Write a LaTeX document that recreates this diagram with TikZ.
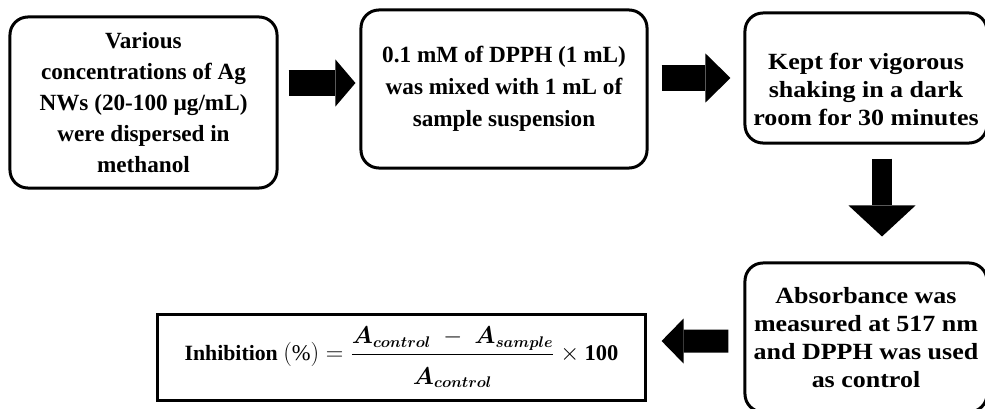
\documentclass[tikz,border=0pt]{standalone}
\usepackage{amsmath}
\usepackage{fontspec}
\setmainfont{Liberation Serif}
\newfontfamily\widefont[FakeStretch=1.12]{Liberation Serif}
\usetikzlibrary{arrows.meta,calc,positioning}
\tikzset{%
	step box/.style = {draw, rounded corners=0.45cm, line width=0.075cm, align=center, inner sep=0pt, font=\bfseries\fontsize{16.5}{22}\selectfont}, % Rounded step
	wide box/.style = {step box, minimum width=6.05cm, font=\widefont\bfseries\fontsize{16.5}{19.9}\selectfont}, % Right column
	result/.style   = {draw, rectangle, line width=0.075cm, inner sep=0pt, minimum width=12.175cm, minimum height=2.125cm, font=\fontsize{15.5}{18}\selectfont}, % Formula
	bigarrow/.style = {line width=0.625cm, -{Triangle[length=0.5cm, width=1.175cm, line width=0pt]}}, % Block arrow
}

\begin{document}
\begin{tikzpicture}[x=0.025cm, y=-0.025cm]
		\clip (0,0) rectangle (985,408);
		\node[step box, minimum width=6.675cm, minimum height=4.275cm] (mix) at (143.5,102.5) {Various\\ concentrations of Ag\\ NWs (20-100 µg/mL)\\ were dispersed in\\ methanol};
		\node[step box, minimum width=7.15cm, minimum height=3.95cm, font=\bfseries\fontsize{16.5}{22.7}\selectfont] (dpph) at (504,89) {0.1 mM of DPPH (1 mL)\\ was mixed with 1 mL of\\ sample suspension};
		\node[wide box, minimum height=3.25cm] (shake) at (866,78) {\rule{0pt}{28.5pt}Kept for vigorous\\ shaking in a dark\\ room for 30 minutes};
		\node[wide box, minimum height=3.725cm] (abs) at (866,337.5) {Absorbance was\\ measured at 517 nm\\ and DPPH was used\\ as control};
		\node[result] (inh) at (401.5,357.5) {\textbf{Inhibition} {\fontsize{16}{18}\selectfont$(\%) = \dfrac{\rule[-5pt]{0pt}{5pt}\boldsymbol{A_{control}} \;-\; \boldsymbol{A_{sample}}}{\rule{0pt}{19pt}\boldsymbol{A_{control}}} \times \mathbf{100}$}};
		\draw[bigarrow] ($(mix.east)+(10,-19.5)$) -- ($(dpph.west)+(-4,-6)$);
		\draw[bigarrow, -{Triangle[length=0.625cm, width=1.225cm, line width=0pt]}] ($(dpph.east)+(13,-11)$) -- ($(shake.west)+(-13,0)$);
		\draw[bigarrow, line width=0.5cm, -{Triangle[length=0.775cm, width=1.675cm, line width=0pt]}] ($(shake.south)+(16,14)$) -- ($(abs.north)+(16,-25)$);
		\draw[bigarrow, line width=0.575cm, -{Triangle[length=0.55cm, width=1.125cm, line width=0pt]}] ($(abs.west)+(-15,3.5)$) -- ($(inh.east)+(15,-16.5)$);
\end{tikzpicture}
\end{document}
